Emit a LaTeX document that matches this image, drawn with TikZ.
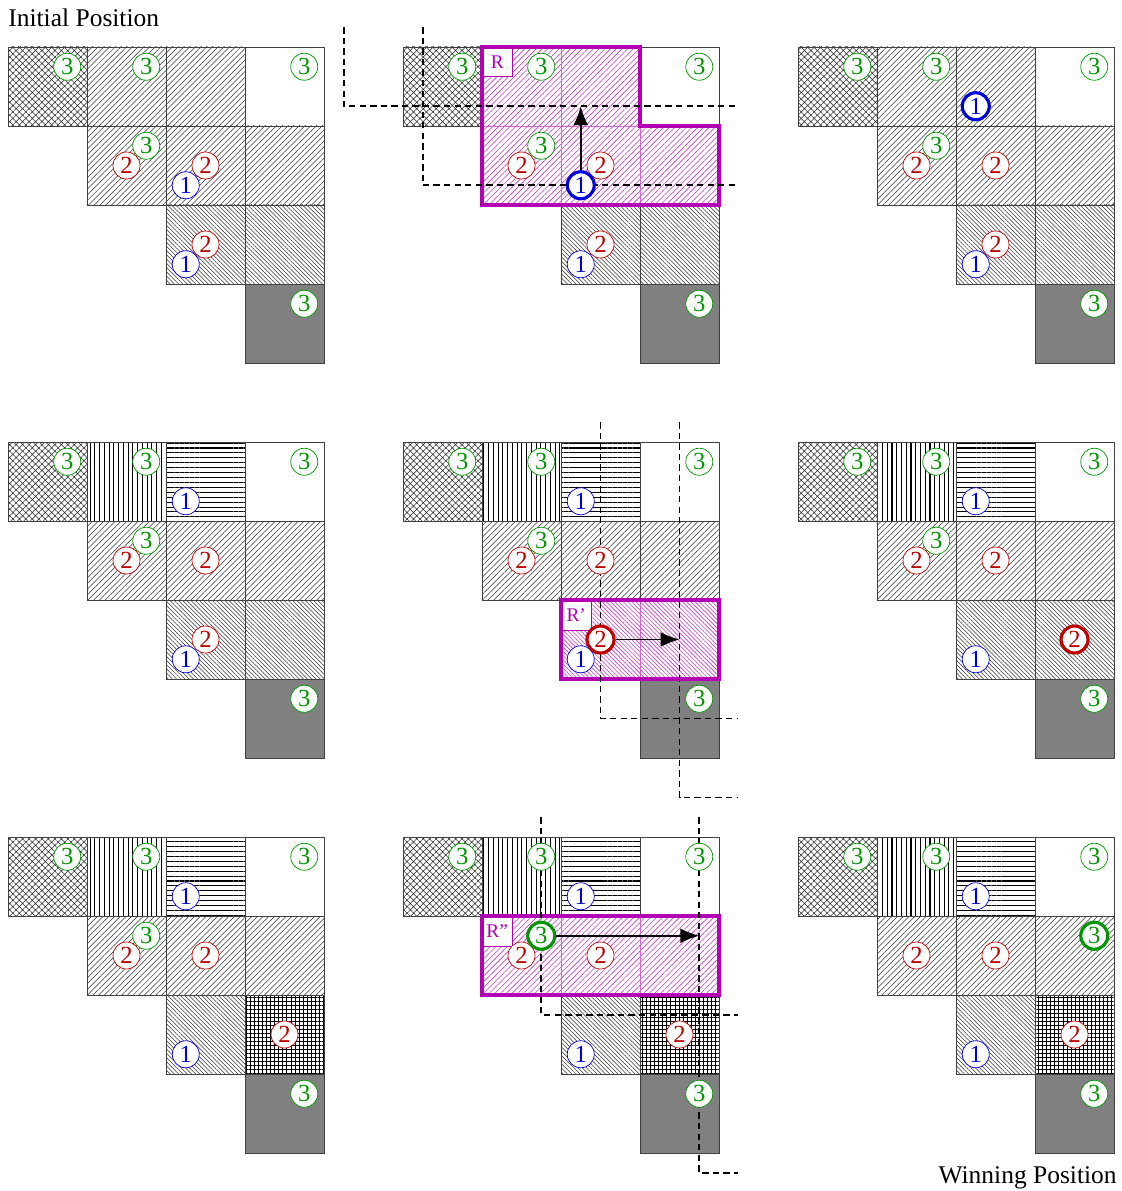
\documentclass[tikz,border=0pt]{standalone}
\usepackage{fontspec}
\setmainfont{Liberation Serif}
\usetikzlibrary{patterns.meta,arrows.meta}
\definecolor{pcgreen}{RGB}{0,150,0}
\definecolor{pcred}{RGB}{190,0,0}
\definecolor{pcblue}{RGB}{0,0,220}
\definecolor{regmag}{RGB}{180,0,180}

\begin{document}
\begin{tikzpicture}[
  cell/.style={draw=black!75,line width=0.5pt},
  diamx/.style={cell,pattern={Hatch[angle=45,distance=2.6pt,line width=0.3pt]},pattern color=black!85},
  nelines/.style={cell,pattern={Lines[angle=45,distance=2.3pt,line width=0.3pt]},pattern color=black!80},
  nwlines/.style={cell,pattern={Lines[angle=-45,distance=1.7pt,line width=0.3pt]},pattern color=black!80},
  vlines/.style={cell,pattern={Lines[angle=90,distance=2.7pt,line width=0.6pt]},pattern color=black},
  hlines/.style={cell,pattern={Lines[angle=0,distance=2.8pt,line width=0.6pt]},pattern color=black},
  gridx/.style={cell,pattern={Hatch[angle=0,distance=2.3pt,line width=0.55pt]},pattern color=black},
  goal/.style={cell,fill=black!50},
  regne/.style={draw=regmag!60,line width=0.5pt,pattern={Lines[angle=45,distance=2.3pt,line width=0.35pt]},pattern color=regmag!75},
  regnw/.style={draw=regmag!60,line width=0.5pt,pattern={Lines[angle=-45,distance=1.7pt,line width=0.35pt]},pattern color=regmag!75},
  region/.style={draw=regmag,line width=2.3pt},
  rlabel/.style={draw=regmag,fill=white,text=regmag,line width=0.5pt,minimum size=0.59cm,
                 inner sep=0pt,anchor=north west,font=\fontsize{11}{11}\selectfont},
  pc/.style={circle,draw,fill=white,inner sep=0pt,minimum size=0.54cm,font=\fontsize{14}{14}\selectfont},
  pc1/.style={pc,draw=pcblue,text=pcblue},
  pc2/.style={pc,draw=pcred,text=pcred},
  pc3/.style={pc,draw=pcgreen,text=pcgreen},
  moved/.style={line width=1.8pt},
  guide/.style={line width=0.95pt,dash pattern=on 3.6pt off 2.4pt},
  push/.style={-{Latex[length=0.38cm,width=0.3cm]},line width=1pt},
  caption/.style={inner sep=0pt,font=\fontsize{14.5}{14.5}\selectfont},
]
\useasboundingbox (0,0) rectangle (22.42,-23.82);

% boards, one row of three at a time
\foreach \by/\pa/\pb/\pc in {-0.94/nelines/nelines/nwlines,-8.84/vlines/hlines/nwlines,-16.74/vlines/hlines/gridx}{
  \foreach \bx in {0.16,8.06,15.96}{
    \begin{scope}[shift={(\bx cm,\by cm)},x=1.58cm,y=-1.58cm]
      \draw[diamx] (0,0) rectangle (1,1);
      \draw[\pa] (1,0) rectangle (2,1);
      \draw[\pb] (2,0) rectangle (3,1);
      \draw[cell] (3,0) rectangle (4,1);
      \draw[nelines] (1,1) rectangle (2,2);
      \draw[nelines] (2,1) rectangle (3,2);
      \draw[nelines] (3,1) rectangle (4,2);
      \draw[nwlines] (2,2) rectangle (3,3);
      \draw[\pc] (3,2) rectangle (4,3);
      \draw[goal] (3,3) rectangle (4,4);
    \end{scope}
  }
}

\node[caption,anchor=base west] (initlab) at (0.16,-0.54) {Initial Position};
\node[caption,anchor=base east] (winlab) at (22.34,-23.66) {Winning Position};

\begin{scope}[shift={(0.16cm,-0.94cm)},x=1.58cm,y=-1.58cm]
  \foreach \k/\rw/\cl in {3/0/0,3/0/1,3/0/3,2/1/1,3/1/1,2/1/2,1/1/2,2/2/2,1/2/2,3/3/3}
    \node[pc\k] (A-\k-\rw\cl) at ({\cl+0.25*\k},{\rw+1-0.25*\k}) {\k};
\end{scope}

\begin{scope}[shift={(8.06cm,-0.94cm)},x=1.58cm,y=-1.58cm]
  \fill[white] (1,0) -- (3,0) -- (3,1) -- (4,1) -- (4,2) -- (1,2) -- cycle;
  \foreach \rw/\cl in {0/1,0/2,1/1,1/2,1/3}
    \draw[regne] (\cl,\rw) rectangle ++(1,1);
  \node[rlabel] (B-lab) at (1,0) {R};
  \draw[region] (1,0) -- (3,0) -- (3,1) -- (4,1) -- (4,2) -- (1,2) -- cycle;
  \draw[guide] (-0.75,-0.25) |- (4.24,0.75);
  \draw[guide] (0.25,-0.25) |- (4.24,1.75);
  \foreach \k/\rw/\cl in {3/0/0,3/0/1,3/0/3,2/1/1,3/1/1,2/1/2,2/2/2,1/2/2,3/3/3}
    \node[pc\k] (B-\k-\rw\cl) at ({\cl+0.25*\k},{\rw+1-0.25*\k}) {\k};
  \node[pc1,moved] (B-1-12) at (2.25,1.75) {1};
  \coordinate (B-to) at (2.25,0.75);
  \draw[push] (B-1-12) -- (B-to);
\end{scope}

\begin{scope}[shift={(15.96cm,-0.94cm)},x=1.58cm,y=-1.58cm]
  \foreach \k/\rw/\cl in {3/0/0,3/0/1,3/0/3,2/1/1,3/1/1,2/1/2,2/2/2,1/2/2,3/3/3}
    \node[pc\k] (C-\k-\rw\cl) at ({\cl+0.25*\k},{\rw+1-0.25*\k}) {\k};
  \node[pc1,moved] (C-1-02) at (2.25,0.75) {1};
\end{scope}

\begin{scope}[shift={(0.16cm,-8.84cm)},x=1.58cm,y=-1.58cm]
  \foreach \k/\rw/\cl in {3/0/0,3/0/1,1/0/2,3/0/3,2/1/1,3/1/1,2/1/2,2/2/2,1/2/2,3/3/3}
    \node[pc\k] (D-\k-\rw\cl) at ({\cl+0.25*\k},{\rw+1-0.25*\k}) {\k};
\end{scope}

\begin{scope}[shift={(8.06cm,-8.84cm)},x=1.58cm,y=-1.58cm]
  \fill[white] (2,2) rectangle (4,3);
  \draw[regnw] (2,2) rectangle (3,3);
  \draw[regnw] (3,2) rectangle (4,3);
  \node[rlabel] (E-lab) at (2,2) {R'};
  \draw[region] (2,2) rectangle (4,3);
  \draw[guide] (2.5,-0.25) |- (4.24,3.5);
  \draw[guide] (3.5,-0.25) |- (4.24,4.5);
  \foreach \k/\rw/\cl in {3/0/0,3/0/1,1/0/2,3/0/3,2/1/1,3/1/1,2/1/2,1/2/2,3/3/3}
    \node[pc\k] (E-\k-\rw\cl) at ({\cl+0.25*\k},{\rw+1-0.25*\k}) {\k};
  \node[pc2,moved] (E-2-22) at (2.5,2.5) {2};
  \coordinate (E-to) at (3.5,2.5);
  \draw[push] (E-2-22) -- (E-to);
\end{scope}

\begin{scope}[shift={(15.96cm,-8.84cm)},x=1.58cm,y=-1.58cm]
  \foreach \k/\rw/\cl in {3/0/0,3/0/1,1/0/2,3/0/3,2/1/1,3/1/1,2/1/2,1/2/2,3/3/3}
    \node[pc\k] (F-\k-\rw\cl) at ({\cl+0.25*\k},{\rw+1-0.25*\k}) {\k};
  \node[pc2,moved] (F-2-23) at (3.5,2.5) {2};
\end{scope}

\begin{scope}[shift={(0.16cm,-16.74cm)},x=1.58cm,y=-1.58cm]
  \foreach \k/\rw/\cl in {3/0/0,3/0/1,1/0/2,3/0/3,2/1/1,3/1/1,2/1/2,1/2/2,2/2/3,3/3/3}
    \node[pc\k] (G-\k-\rw\cl) at ({\cl+0.25*\k},{\rw+1-0.25*\k}) {\k};
\end{scope}

\begin{scope}[shift={(8.06cm,-16.74cm)},x=1.58cm,y=-1.58cm]
  \fill[white] (1,1) rectangle (4,2);
  \foreach \cl in {1,2,3}
    \draw[regne] (\cl,1) rectangle ++(1,1);
  \node[rlabel] (H-lab) at (1,1) {R''};
  \draw[region] (1,1) rectangle (4,2);
  \draw[guide] (1.75,-0.25) |- (4.24,2.25);
  \draw[guide] (3.75,-0.25) |- (4.24,4.25);
  \foreach \k/\rw/\cl in {3/0/0,3/0/1,1/0/2,3/0/3,2/1/1,2/1/2,1/2/2,2/2/3,3/3/3}
    \node[pc\k] (H-\k-\rw\cl) at ({\cl+0.25*\k},{\rw+1-0.25*\k}) {\k};
  \node[pc3,moved] (H-3-11) at (1.75,1.25) {3};
  \coordinate (H-to) at (3.75,1.25);
  \draw[push] (H-3-11) -- (H-to);
\end{scope}

\begin{scope}[shift={(15.96cm,-16.74cm)},x=1.58cm,y=-1.58cm]
  \foreach \k/\rw/\cl in {3/0/0,3/0/1,1/0/2,3/0/3,2/1/1,2/1/2,1/2/2,2/2/3,3/3/3}
    \node[pc\k] (I-\k-\rw\cl) at ({\cl+0.25*\k},{\rw+1-0.25*\k}) {\k};
  \node[pc3,moved] (I-3-13) at (3.75,1.25) {3};
\end{scope}
\end{tikzpicture}
\end{document}
